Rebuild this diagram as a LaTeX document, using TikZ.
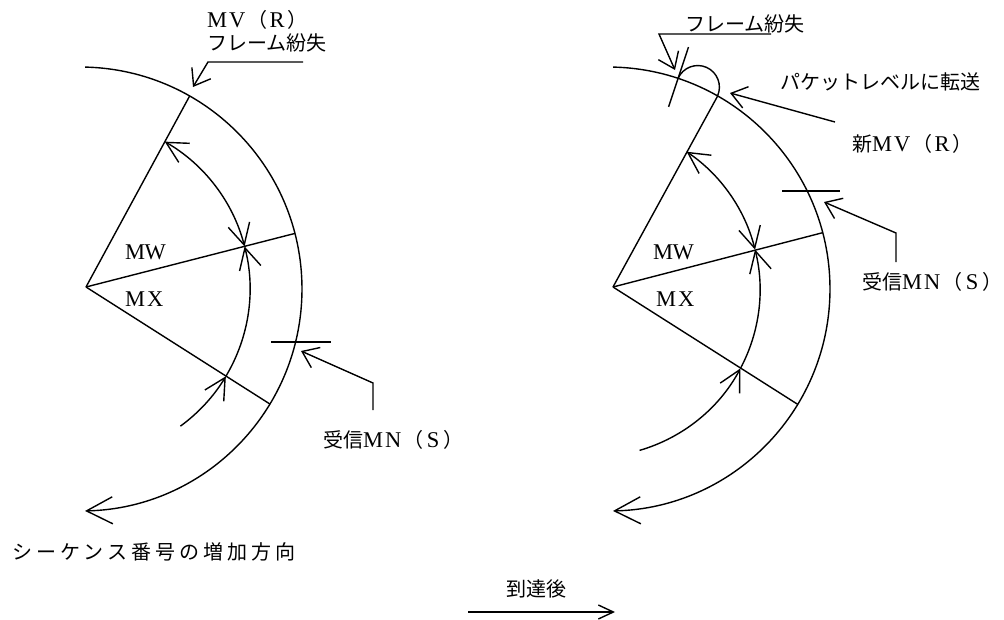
\documentclass[tikz,border=0pt]{standalone}
\usepackage{fontspec}
\newfontfamily\jp{Noto Sans CJK JP}
\newfontfamily\jpw[LetterSpace=20]{Noto Sans CJK JP}
\newfontfamily\lat{Liberation Serif}
\usetikzlibrary{arrows.meta,calc}
\newcommand\fwc[1]{\makebox[20pt]{\lat\fontsize{22.5}{22.5}\selectfont #1}}
\newcommand\rpar{\makebox[10pt][l]{）}}
\begin{document}
\begin{tikzpicture}[x=1pt,y=-1pt,
  ln/.style={line width=1.4pt},
  win/.style={-{Straight Barb[length=21pt,width=22pt]}},
  winb/.style={{Straight Barb[length=21pt,width=22pt]}-{Straight Barb[length=21pt,width=22pt]}},
  bigtip/.style={-{Straight Barb[length=26pt,width=27pt]}},
  lead/.style={-{Straight Barb[length=15pt,width=22pt]}},
  txt/.style={inner sep=0pt,anchor=west,font=\jp\fontsize{20}{20}\selectfont}]
\useasboundingbox (0,0) rectangle (1004,619);
% ---------------- left diagram ----------------
\coordinate (C1) at (80,289);
\coordinate (A1) at (86,287);
\coordinate (V1) at ($(C1)+(60.4:222pt)$);
\coordinate (W1) at ($(C1)+(14.5:222pt)$);
\coordinate (X1) at ($(C1)+(-31.2:222pt)$);
\coordinate (O1s) at ($(C1)+(88.7:222pt)$);
\draw[ln,bigtip] (O1s) arc[start angle=88.7,end angle=-88.7,radius=222pt];
\draw[ln] (A1) -- (V1);
\draw[ln] (A1) -- (W1);
\draw[ln] (A1) -- (X1);
\coordinate (I1e) at ($(C1)+(-53.8:170pt)$);
\coordinate (I1x) at ($(C1)+(-30.9:170pt)$);
\coordinate (I1w) at ($(C1)+(14.5:170pt)$);
\draw[ln,win] (I1e) arc[start angle=-53.8,end angle=-30.9,radius=170pt];
\draw[ln,win] (I1x) arc[start angle=-30.9,end angle=14.5,radius=170pt];
\draw[ln,winb] (I1w) arc[start angle=14.5,end angle=60.1,radius=170pt];
\node[txt] (mw1) at (125,252) {\fwc{M}\fwc{W}};
\node[txt] (mx1) at (125,299) {\fwc{M}\fwc{X}};
\node[txt] (mv1) at (207,20) {\fwc{M}\fwc{V}（\fwc{R}\rpar};
\node[txt] (fl1) at (207,43) {フレーム紛失};
\coordinate (L1a) at (303,62);
\coordinate (L1b) at (208,62);
\coordinate (L1t) at (193,87);
\draw[ln,lead] (L1a) -- (L1b) -- (L1t);
\coordinate (T1a) at (271,342);
\coordinate (T1b) at (331,342);
\draw[ln] (T1a) -- (T1b);
\coordinate (M1a) at (373,410);
\coordinate (M1b) at (373,383);
\coordinate (M1t) at (301,351);
\draw[ln,lead] (M1a) -- (M1b) -- (M1t);
\node[txt] (mn1) at (323,440) {受信\fwc{M}\fwc{N}（\fwc{S}\rpar};
\node[txt,font=\jpw\fontsize{20}{20}\selectfont] (seq) at (12,552) {シーケンス番号の増加方向};
% ---------------- arrival arrow ----------------
\node[txt] (arr) at (506,589) {到達後};
\coordinate (B1) at (468,612);
\coordinate (B2) at (615,612);
\draw[ln,-{Straight Barb[length=15pt,width=14pt]}] (B1) -- (B2);
% ---------------- right diagram ----------------
\coordinate (C2) at (608,289);
\coordinate (A2) at (613,287);
\coordinate (Q2) at (593,290);
\coordinate (V2) at ($(C2)+(60.4:222pt)$);
\coordinate (W2) at ($(C2)+(14.7:222pt)$);
\coordinate (X2) at ($(C2)+(-31.3:222pt)$);
\coordinate (O2s) at ($(C2)+(88.7:222pt)$);
\draw[ln,bigtip] (O2s) arc[start angle=88.7,end angle=-88.7,radius=222pt];
\draw[ln] (A2) -- (V2);
\draw[ln] (A2) -- (W2);
\draw[ln] (A2) -- (X2);
\coordinate (I2e) at ($(Q2)+(-73.8:167pt)$);
\coordinate (I2x) at ($(Q2)+(-28:167pt)$);
\coordinate (I2w) at ($(Q2)+(14:167pt)$);
\draw[ln,win] (I2e) arc[start angle=-73.8,end angle=-28,radius=167pt];
\draw[ln,win] (I2x) arc[start angle=-28,end angle=14,radius=167pt];
\draw[ln,winb] (I2w) arc[start angle=14,end angle=55.9,radius=167pt];
% lost frame tick and skipped slot
\coordinate (F2) at ($(C2)+(71.6:222pt)$);
\draw[ln] ($(C2)+(71.6:192pt)$) -- ($(C2)+(71.6:255pt)$);
\draw[ln] (F2) arc[start angle=156,end angle=-24,radius=21.6pt];
\node[txt] (mw2) at (653,252) {\fwc{M}\fwc{W}};
\node[txt] (mx2) at (656,299) {\fwc{M}\fwc{X}};
\node[txt] (fl2) at (685,24) {フレーム紛失};
\coordinate (L2a) at (771,34);
\coordinate (L2b) at (659,34);
\coordinate (L2t) at (675,70);
\draw[ln,lead] (L2a) -- (L2b) -- (L2t);
\node[txt] (pk2) at (780,82) {パケットレベルに転送};
\coordinate (N2a) at (835,122);
\coordinate (N2t) at (730,93);
\draw[ln,lead] (N2a) -- (N2t);
\node[txt] (nmv2) at (852,144) {新\fwc{M}\fwc{V}（\fwc{R}\rpar};
\coordinate (T2a) at (782,191);
\coordinate (T2b) at (840,191);
\draw[ln] (T2a) -- (T2b);
\coordinate (M2a) at (896,262);
\coordinate (M2b) at (896,233);
\coordinate (M2t) at (824,202);
\draw[ln,lead] (M2a) -- (M2b) -- (M2t);
\node[txt] (mn2) at (862,282) {受信\fwc{M}\fwc{N}（\fwc{S}\rpar};
\end{tikzpicture}
\end{document}
